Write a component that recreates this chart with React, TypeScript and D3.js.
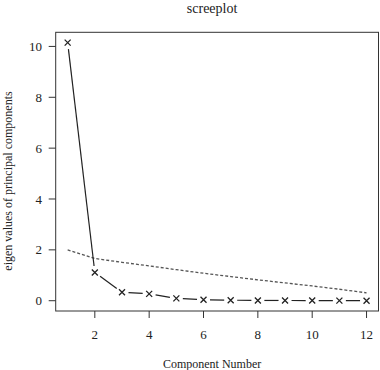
import React from "react";
import * as d3 from "d3";

const components = [1, 2, 3, 4, 5, 6, 7, 8, 9, 10, 11, 12];
const eigenValues = [10.15, 1.11, 0.33, 0.27, 0.09, 0.04, 0.02, 0.01, 0.01, 0.005, 0.003, 0.001];
// dashed reference line (parallel analysis style)
const referenceValues = [2.0, 1.66, 1.51, 1.37, 1.22, 1.08, 0.95, 0.82, 0.7, 0.58, 0.45, 0.31];

const xTicks = [2, 4, 6, 8, 10, 12];
const yTicks = [0, 2, 4, 6, 8, 10];

const title = "screeplot";
const xLabel = "Component Number";
const yLabel = "eigen values of principal components";

const width = 380;
const height = 370;
const plot = { left: 55.7, right: 378.5, top: 32.3, bottom: 311 };
const font = "'Liberation Serif', 'DejaVu Serif', serif";

const App: React.FC = () => {
  // R-style 4% padding around data range
  const xPad = (d3.max(components)! - d3.min(components)!) * 0.04;
  const allY = eigenValues.concat(referenceValues);
  const yMin = d3.min(allY)!;
  const yMax = d3.max(allY)!;
  const yPad = (yMax - yMin) * 0.04;

  const x = d3
    .scaleLinear()
    .domain([d3.min(components)! - xPad, d3.max(components)! + xPad])
    .range([plot.left, plot.right]);
  const y = d3
    .scaleLinear()
    .domain([yMin - yPad, yMax + yPad])
    .range([plot.bottom, plot.top]);

  const pts = components.map((c, i) => [x(c), y(eigenValues[i])] as [number, number]);

  // type = "b": segments stop short of each point
  const gap = 6.5;
  const segments = pts.slice(1).map((p, i) => {
    const a = pts[i];
    const dx = p[0] - a[0];
    const dy = p[1] - a[1];
    const len = Math.hypot(dx, dy);
    if (len <= 2 * gap) return null;
    const ux = dx / len;
    const uy = dy / len;
    return [a[0] + ux * gap, a[1] + uy * gap, p[0] - ux * gap, p[1] - uy * gap];
  });

  const refLine = d3
    .line<number>()
    .x((_, i) => x(components[i]))
    .y((d) => y(d));

  const cx = (plot.left + plot.right) / 2 - 5;
  const cy = 181;

  return (
    <svg width={width} height={height} style={{ position: "absolute", left: 0, top: 0 }}>
      <rect width={width} height={height} fill="#fff" />
      <text x={cx} y={13} textAnchor="middle" fontFamily={font} fontSize={14} fill="#222">
        {title}
      </text>

      {/* reference dashed line */}
      <path
        d={refLine(referenceValues) ?? ""}
        fill="none"
        stroke="#555"
        strokeWidth={1.3}
        strokeDasharray="3,2"
      />

      {/* eigenvalue line */}
      {segments.map((s, i) =>
        s ? (
          <line key={i} x1={s[0]} y1={s[1]} x2={s[2]} y2={s[3]} stroke="#222" strokeWidth={1.2} />
        ) : null
      )}
      {pts.map((p, i) => (
        <path
          key={i}
          d={`M${p[0] - 3},${p[1] - 3}L${p[0] + 3},${p[1] + 3}M${p[0] - 3},${p[1] + 3}L${p[0] + 3},${p[1] - 3}`}
          stroke="#222"
          strokeWidth={1.3}
          fill="none"
        />
      ))}

      {/* box */}
      <rect
        x={plot.left}
        y={plot.top}
        width={plot.right - plot.left}
        height={plot.bottom - plot.top}
        fill="none"
        stroke="#333"
        strokeWidth={1}
      />

      {/* x axis */}
      {xTicks.map((t) => (
        <g key={t}>
          <line x1={x(t)} x2={x(t)} y1={plot.bottom} y2={plot.bottom + 7} stroke="#333" />
          <text x={x(t)} y={339} textAnchor="middle" fontFamily={font} fontSize={13} fill="#222">
            {t}
          </text>
        </g>
      ))}

      {/* y axis */}
      {yTicks.map((t) => (
        <g key={t}>
          <line x1={plot.left - 7} x2={plot.left} y1={y(t)} y2={y(t)} stroke="#333" />
          <text
            x={42}
            y={y(t)}
            dy="0.35em"
            textAnchor="end"
            fontFamily={font}
            fontSize={13}
            fill="#222"
          >
            {t}
          </text>
        </g>
      ))}

      <text x={cx} y={368} textAnchor="middle" fontFamily={font} fontSize={12} fill="#222">
        {xLabel}
      </text>
      <text
        transform={`translate(12,${cy}) rotate(-90)`}
        textAnchor="middle"
        fontFamily={font}
        fontSize={12}
        fill="#222"
      >
        {yLabel}
      </text>
    </svg>
  );
};

export default App;
